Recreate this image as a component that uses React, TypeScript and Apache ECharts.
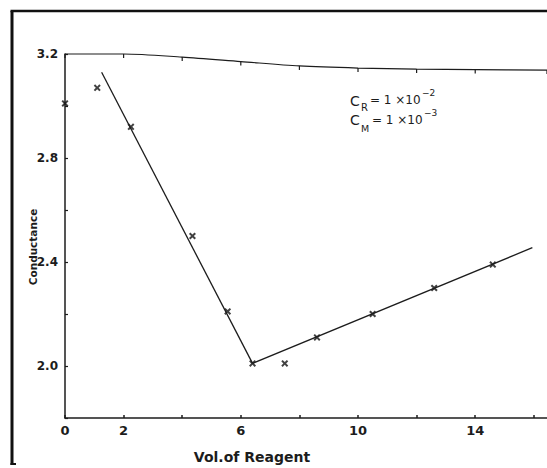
import React, { useEffect, useRef } from "react";
import * as echarts from "echarts";

// Labelled ticks on each axis
const xLabelled = [0, 2, 6, 10, 14];
const yLabelled = [2.0, 2.4, 2.8, 3.2];

// Titration readings: reagent volume vs conductance
const volume = [0, 1.1, 2.25, 4.35, 5.55, 6.4, 7.5, 8.6, 10.5, 12.6, 14.6];
const conductance = [3.01, 3.07, 2.92, 2.5, 2.21, 2.01, 2.01, 2.11, 2.2, 2.3, 2.39];

// Hand-fitted straight lines meeting at the end point
const fallingFit = [
  [1.25, 3.13],
  [6.4, 2.01],
];
const risingFit = [
  [6.4, 2.01],
  [15.95, 2.455],
];

// Upper edge of the plotting frame (slightly bowed)
const frameTopX = [0, 2, 4, 6, 8, 10, 12, 14, 16.45];
const frameTopY = [3.2, 3.2, 3.188, 3.171, 3.154, 3.146, 3.142, 3.14, 3.138];

const INK = "#1c1c1c";
const FONT = "DejaVu Sans";

const crossSymbol =
  "path://M0,2L2,0L5,3L8,0L10,2L7,5L10,8L8,10L5,7L2,10L0,8L3,5Z";
const tickSymbol = "path://M0,0L1,0L1,4L0,4Z";

export default function App() {
  const ref = useRef<HTMLDivElement>(null);

  useEffect(() => {
    if (!ref.current) return;
    const chart = echarts.init(ref.current, undefined, { renderer: "svg" });

    const near = (list: number[], v: number) =>
      list.some((t) => Math.abs(t - v) < 1e-6);

    const textStyle = (fontSize: number, bold = true) => ({
      fill: INK,
      fontSize,
      fontFamily: FONT,
      fontWeight: bold ? "bold" : "normal",
    });

    chart.setOption({
      animation: false,
      backgroundColor: "#ffffff",
      grid: { left: 65, right: 0, top: 54, bottom: 50, containLabel: false },
      xAxis: {
        type: "value",
        min: 0,
        max: 16.45,
        interval: 2,
        axisLine: { show: true, lineStyle: { color: INK, width: 1.5 } },
        axisTick: { show: true, inside: true, length: 3, lineStyle: { color: INK, width: 1.5 } },
        splitLine: { show: false },
        axisLabel: {
          showMaxLabel: false,
          margin: 6,
          color: INK,
          fontSize: 13,
          fontWeight: "bold",
          fontFamily: FONT,
          formatter: (v: number) => (near(xLabelled, v) ? String(v) : ""),
        },
      },
      yAxis: {
        type: "value",
        min: 1.8,
        max: 3.2,
        interval: 0.2,
        axisLine: { show: true, lineStyle: { color: INK, width: 1.5 } },
        axisTick: { show: true, inside: true, length: 3, lineStyle: { color: INK, width: 1.2 } },
        splitLine: { show: false },
        axisLabel: {
          margin: 7,
          color: INK,
          fontSize: 12,
          fontWeight: "bold",
          fontFamily: FONT,
          formatter: (v: number) => (near(yLabelled, v) ? v.toFixed(1) : ""),
        },
      },
      series: [
        {
          name: "frame",
          type: "line",
          silent: true,
          clip: false,
          smooth: 0.3,
          data: frameTopX.map((x, i) => [x, frameTopY[i]]),
          lineStyle: { color: INK, width: 1.2 },
          symbol: tickSymbol,
          symbolSize: [1.2, 4],
          symbolOffset: [0, 2],
          itemStyle: { color: INK },
        },
        {
          name: "falling",
          type: "line",
          silent: true,
          data: fallingFit,
          symbol: "none",
          lineStyle: { color: INK, width: 1.3 },
        },
        {
          name: "rising",
          type: "line",
          silent: true,
          data: risingFit,
          symbol: "none",
          lineStyle: { color: INK, width: 1.3 },
        },
        {
          name: "Conductance",
          type: "scatter",
          data: volume.map((v, i) => [v, conductance[i]]),
          symbol: crossSymbol,
          symbolSize: 7,
          itemStyle: { color: "#111" },
        },
      ],
      graphic: [
        // page border
        { type: "line", shape: { x1: 12, y1: 11, x2: 12, y2: 465 }, style: { stroke: "#111", lineWidth: 3 } },
        { type: "line", shape: { x1: 10.5, y1: 11, x2: 547, y2: 11 }, style: { stroke: "#111", lineWidth: 2.5 } },
        { type: "line", shape: { x1: 10.5, y1: 464, x2: 16, y2: 464 }, style: { stroke: "#111", lineWidth: 2 } },
        // axis names
        {
          type: "text",
          x: 33,
          y: 247,
          rotation: Math.PI / 2,
          style: { ...textStyle(10.5), text: "Conductance", align: "center", verticalAlign: "middle" },
        },
        {
          type: "text",
          x: 252,
          y: 457,
          style: { ...textStyle(14), text: "Vol.of Reagent", align: "center", verticalAlign: "middle" },
        },
        // concentrations
        { type: "text", x: 350, y: 101, style: { ...textStyle(14, false), text: "C", verticalAlign: "middle" } },
        { type: "text", x: 361, y: 107, style: { ...textStyle(10, false), text: "R", verticalAlign: "middle" } },
        { type: "text", x: 370, y: 100, style: { ...textStyle(12, false), text: "= 1 ×10", verticalAlign: "middle" } },
        { type: "text", x: 422, y: 93, style: { ...textStyle(9, false), text: "−2", verticalAlign: "middle" } },
        { type: "text", x: 350, y: 120, style: { ...textStyle(14, false), text: "C", verticalAlign: "middle" } },
        { type: "text", x: 361, y: 128, style: { ...textStyle(9.5, false), text: "M", verticalAlign: "middle" } },
        { type: "text", x: 372, y: 120, style: { ...textStyle(12, false), text: "= 1 ×10", verticalAlign: "middle" } },
        { type: "text", x: 424, y: 113, style: { ...textStyle(9, false), text: "−3", verticalAlign: "middle" } },
      ],
    });

    return () => chart.dispose();
  }, []);

  return (
    <div
      ref={ref}
      style={{ position: "absolute", left: 0, top: 0, width: 547, height: 468, background: "#fff" }}
    />
  );
}
